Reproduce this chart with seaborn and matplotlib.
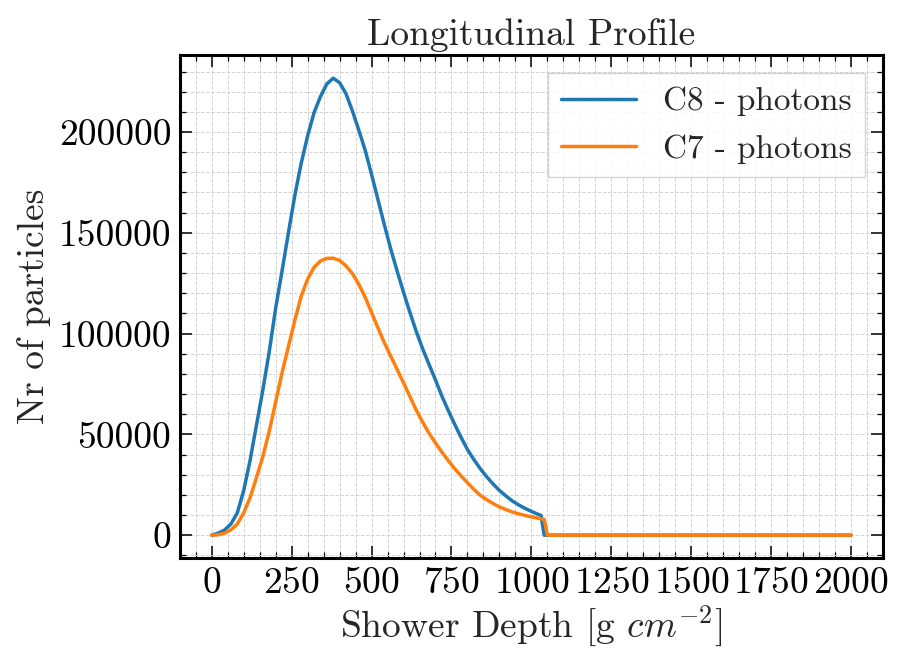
import numpy as np
import pandas as pd
import matplotlib
matplotlib.use("Agg")
import matplotlib.pyplot as plt
from matplotlib.ticker import MultipleLocator, ScalarFormatter
import seaborn as sns

# ---- data ----
depth_c8 = [0, 20, 40, 60, 80, 100, 120, 140, 160, 180, 200, 220, 240, 260, 280, 300,
            320, 340, 360, 380, 400, 420, 440, 460, 480, 500, 520, 540, 560, 580, 600,
            620, 640, 660, 680, 700, 720, 740, 760, 780, 800, 820, 840, 860, 880, 900,
            920, 940, 960, 980, 1000, 1020, 1030, 1040, 2000]
c8_photons = [0, 1000, 2500, 5500, 11000, 22000, 37000, 54500, 72000, 91000, 112500,
              131000, 150000, 168500, 184500, 198000, 209500, 217500, 223800, 226700,
              224500, 219000, 210500, 201000, 191000, 179000, 166500, 154000, 142000,
              131000, 120500, 110500, 101000, 92400, 84600, 77000, 69000, 61800, 55000,
              48500, 42500, 37500, 33000, 29000, 25400, 22200, 19500, 17000, 15000,
              13300, 11800, 10400, 9800, 0, 0]

depth_c7 = [0, 20, 40, 60, 80, 100, 120, 140, 160, 180, 200, 220, 240, 260, 280, 300,
            320, 340, 360, 380, 400, 420, 440, 460, 480, 500, 520, 540, 560, 580, 600,
            620, 640, 660, 680, 700, 720, 740, 760, 780, 800, 820, 840, 860, 880, 900,
            920, 940, 960, 980, 1000, 1020, 1030, 1040, 1050, 2000]
c7_photons = [0, 200, 1000, 2600, 5500, 11000, 18500, 28500, 39000, 51500, 66000, 80500,
              93500, 106500, 118500, 127000, 132800, 136000, 137300, 137400, 136300,
              133600, 129800, 124500, 118000, 110500, 102800, 95500, 88800, 82200, 75600,
              68800, 62000, 56000, 50500, 45700, 41200, 37000, 33000, 29400, 26000, 22700,
              19800, 17600, 15700, 14000, 12700, 11500, 10600, 9800, 9100, 8400, 8100,
              7800, 0, 0]

series_names = ["C8 - photons", "C7 - photons"]
colors = ["#1f77b4", "#ff7f0e"]

df = pd.concat([
    pd.DataFrame({"depth": depth_c8, "n": c8_photons, "series": series_names[0]}),
    pd.DataFrame({"depth": depth_c7, "n": c7_photons, "series": series_names[1]}),
], ignore_index=True)

# ---- style ----
sns.set_style("ticks")
plt.rcParams["font.family"] = ["cmr10", "DejaVu Serif"]
plt.rcParams["mathtext.fontset"] = "cm"
plt.rcParams["axes.formatter.use_mathtext"] = True
plt.rcParams["axes.unicode_minus"] = False

fs = 27
fig = plt.figure(figsize=(9.03, 6.6), dpi=100)
ax = fig.add_axes([0.199, 0.1545, 0.779, 0.762])

sns.lineplot(data=df, x="depth", y="n", hue="series", hue_order=series_names,
             palette=colors, linewidth=2.5, ax=ax, sort=False, estimator=None)

ax.xaxis.set_major_locator(MultipleLocator(250))
ax.xaxis.set_minor_locator(MultipleLocator(50))
ax.yaxis.set_major_locator(MultipleLocator(50000))
ax.yaxis.set_minor_locator(MultipleLocator(10000))
ax.set_xlim(-100, 2100)
ax.set_ylim(-11340, 238140)

fmt = ScalarFormatter(useOffset=False, useMathText=False)
fmt.set_scientific(False)
ax.yaxis.set_major_formatter(fmt)

ax.grid(True, which="both", linestyle="--", color="#d3d3d3", linewidth=0.7)
ax.set_axisbelow(True)

for s in ax.spines.values():
    s.set_linewidth(2.2)
    s.set_color("black")
    s.set_visible(True)

ax.tick_params(which="both", direction="in", top=True, right=True, colors="black")
ax.tick_params(which="major", length=8.5, width=1.1, labelsize=fs, pad=6)
ax.tick_params(which="minor", length=4.3, width=0.9)

ax.set_title("Longitudinal Profile", fontsize=fs, pad=7)
ax.set_xlabel(r"Shower Depth [g $cm^{-2}$]", fontsize=fs, labelpad=3)
ax.set_ylabel("Nr of particles", fontsize=fs, labelpad=6)

leg = ax.legend(loc="upper right", fontsize=24, frameon=True, fancybox=False,
                framealpha=0.85, edgecolor="#cccccc", handlelength=2.25,
                labelspacing=0.55, borderaxespad=0.55)
for line in leg.get_lines():
    line.set_linewidth(2.5)

fig.savefig("out.png", dpi=100)
